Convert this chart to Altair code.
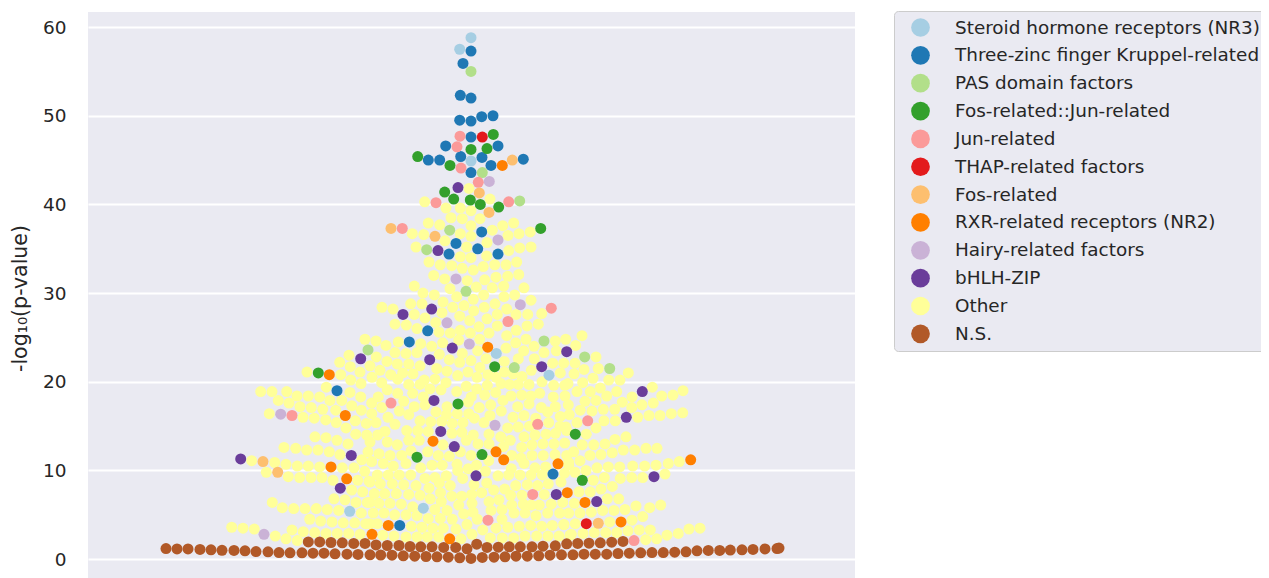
import altair as alt
import pandas as pd

families = ["Steroid hormone receptors (NR3)", "Three-zinc finger Kruppel-related", "PAS domain factors",
            "Fos-related::Jun-related", "Jun-related", "THAP-related factors", "Fos-related",
            "RXR-related receptors (NR2)", "Hairy-related factors", "bHLH-ZIP", "Other", "N.S."]
palette = ["#a6cee3", "#1f78b4", "#b2df8a", "#33a02c", "#fb9a99", "#e31a1c", "#fdbf6f", "#ff7f00",
           "#cab2d6", "#6a3d9a", "#ffff99", "#b15928"]
y_ticks = [0, 10, 20, 30, 40, 50, 60]

# (swarm offset, -log10 p-value)
steroid = [(0,58.8),(-11.3,57.5),(0,44.9),(25.3,23.2),(78,20.75),(-121.3,5.4),(-47.7,5.75)]
zinc = [(0,57.3),(-8,55.9),(-10.7,52.3),(0,52.0),(-11.3,49.5),(0,49.4),(10.7,49.9),(22,50.0),(0,47.6),
        (-25.3,46.6),(27,46.6),(-10.3,45.4),(11,45.3),(-42.7,45.0),(-31.3,45.0),(52.3,45.1),(20,44.4),(0,43.6),
        (10.7,36.9),(-15,35.6),(6.7,35.0),(-22,34.4),(27,34.4),(-134,19.0),(-43.3,25.75),(-61.7,24.5),(-71.3,3.8),(82,9.6)]
pas = [(0,55.0),(11.3,43.6),(48.7,40.4),(-21.3,37.1),(-44.3,34.9),(-5,30.2),(-103,23.6),(73,24.6),(113.7,22.8),(138.7,21.5),(43.3,21.6)]
fosjun = [(22.3,47.9),(0,46.2),(16,46.3),(-53.3,45.4),(-21,44.4),(-26.3,41.4),(-17.3,40.6),(-0.7,40.5),(9.3,40.0),(27.7,39.7),(69.7,37.3),
          (-152.7,21.0),(-13,17.5),(-54,11.5),(23.7,21.7),(104.3,14.1),(11,11.8),(111.3,8.9)]
jun = [(-11,47.7),(-14,46.5),(-10,44.1),(7.3,42.5),(37.7,40.3),(-35,40.2),(-68.7,37.3),(-179,16.2),(-80,17.6),
       (80.3,28.3),(37,26.8),(66.7,15.2),(116.7,15.6),(61.7,7.3),(17,4.4),(163,2.1)]
thap = [(11.3,47.6),(115.3,4.0)]
fos = [(41.3,45.0),(8.3,41.3),(18,39.1),(-80,37.3),(-36,36.4),(-208,11.0),(-193.3,9.8),(127.3,4.05)]
rxr = [(31.3,44.4),(-141.7,20.8),(-125.7,16.2),(-38,13.3),(-140,10.4),(-124.3,9.06),(-82.7,3.8),(-99,2.8),(-21.3,2.3),
       (16.7,23.9),(25,12.1),(32.7,11.2),(87,10.75),(219.7,11.2),(96.3,7.5),(114,6.4),(150,4.2)]
hairy = [(18.3,42.6),(27,36.0),(-15,31.6),(49.3,28.7),(-24,26.65),(-1.7,24.25),(-190.3,16.35),(-207,2.8),(24,15.1)]
bhlh = [(-13,41.9),(-33,34.8),(-39.3,28.2),(-68,27.6),(-18.7,23.8),(-110.3,22.6),(-41.3,22.5),(-37,17.9),(-30.3,14.4),(-16.7,12.7),
        (-119.7,11.7),(-230.3,11.3),(5,9.4),(-130.7,8.0),(95.7,23.4),(70.7,21.7),(171.3,18.9),(155.3,16.0),(183,9.3),(85.3,7.3),(125.7,6.5)]

other_top = [(-2,41.8),(-46.3,40.3),(19,40.6),(-25,39.6),(-10.7,39.6),(0,39.3),(-20,38.5),(-8.7,38.4),(9,38.4),(-42.7,37.9),(-31.3,37.7),
             (0,37.6),(31.7,37.6),(42.7,37.9),(21.3,37.1),(-58.7,36.7),(-47.3,36.6),(-10.7,36.7),(37,36.5),(48,36.7),(59.3,36.9),(0,36.4),
             (-26,35.9),(16,35.7),(-55,35.2),(-4.3,35.2),(60,35.2),(48.7,35.1),(37.7,34.8),(-10.7,34.1),(0,34.0),(15.7,34.2),(-42,33.5),
             (-30.7,33.2),(-19.3,33.1),(-8.7,32.8),(2.3,32.6),(12.3,33.0),(23.7,33.2),(35,33.2),(45.7,33.5),(-37.3,32.0),(-26.3,31.6),
             (-3.7,31.4),(13.7,31.5),(25,31.8),(36.7,31.9),(47.7,32.1),(-56.7,30.8),(-21,30.5),(5.3,30.7),(21.3,30.6),(32.7,30.8),(53,30.6),
             (-48,30.0),(-36.7,29.8),(-14.3,29.6),(12.7,29.8),(33,29.6),(43.7,29.8),(2.3,29.3),(60,29.2)]
other_upper = [(-89,28.4),(-78,28.2),(-60.3,28.8),(-49,28.8),(-28,29.0),(-56.7,27.6),(-29,27.8),(-46,27.2),(-18.3,28.4),(-7,28.6),(2.7,28.0),
               (13.3,28.4),(24,28.8),(35.7,28.2),(-11.3,27.4),(-1.3,26.9),(16,27.1),(26.3,27.6),(45,27.6),(56.7,27.6),(70.7,27.7),(-76,26.5),
               (-64.7,26.4),(-35.3,26.7),(-54,26.0),(8,26.2),(26.3,26.3),(45.3,25.8),(56,26.3),(67.3,26.5),(-32,25.6),(-20.7,25.5),(-10.7,25.8),
               (-0.7,25.5),(18,25.5),(35.7,25.2),(-95,24.6),(-72.7,24.5),(-85,24.1),(-50.3,24.3),(-39.3,24.0),(-28.3,24.4),(-12.3,24.7),(8.7,24.8),
               (44.7,24.4),(55,24.8),(63,24.0),(84.3,24.6),(94.7,24.8),(-76,23.3),(-65,23.2),(-54,23.3),(-31.7,23.1),(-8.7,23.2),(6.7,23.5),(35,23.8),
               (52.7,23.5),(73,23.3),(85.3,23.5),(-94.7,22.8),(-84,22.3),(-73.7,22.0),(-62.3,22.0),(-51,21.8),(-21.7,22.5),(-11.3,22.2),(0,22.4),
               (15,22.6),(33.3,22.3),(47.3,22.6),(63.3,22.6),(81.7,22.1),(92.7,22.1),(-101,21.8),(-91,21.3),(-80.3,20.8),(-68.3,21.0),(-58,20.9),
               (-34.3,21.5),(-24,21.2),(-13.3,20.7),(-3,21.1),(9,21.6),(17,20.8),(33.3,21.1),(51,20.6),(60.3,21.3),(89.3,21.0),(-99,20.5),(-73.3,20.3),
               (-46.7,20.2),(-36,20.3),(6,20.5)]
other_middle = [(-89.3,19.9),(-62.3,19.7),(-51,19.7),(-25,19.9),(-4.7,19.5),(5.7,19.2),(16.3,19.6),(30,19.8),(47.3,19.7),(58,19.7),(71,20.0),
                (82.7,19.6),(93.7,19.6),(-83.7,19.1),(-73.3,18.7),(-58.3,18.7),(-92.7,18.3),(-47.7,18.3),(-30,19.1),(-41,19.2),(0.3,18.3),(13.7,18.5),
                (24.7,18.8),(40,18.4),(50.7,18.5),(68.7,18.7),(82.3,18.3),(94,18.4),(-14.3,18.9),(-99.3,17.6),(-89.3,17.1),(-67.3,17.8),(-56.7,17.2),
                (-46,17.4),(-24,17.2),(-2.7,17.7),(8.3,17.1),(19.7,17.4),(32,17.9),(46.7,17.2),(58,17.5),(70.3,17.1),(84.3,17.2),(97.3,17.4),(-71.7,16.7),
                (-83,16.0),(-99.3,16.4),(-35,16.6),(-62.3,16.3),(-13.7,16.4),(-2.3,16.4),(30.3,16.7),(42,16.0),(53,16.2),(76.7,16.6),(64.7,15.9),(89.3,16.1),
                (-95,15.4),(-76,15.2),(-51,15.6),(-40.3,15.5),(-29.3,15.5),(-18.7,15.3),(-8,15.4),(3.3,15.9),(13,15.4),(36.7,14.8),(47.3,14.9),(77.7,15.4),
                (89,15.0),(-86,14.4),(-64.3,14.5),(-53.3,14.5),(-42.7,14.4),(2.3,14.0),(18,14.1),(29.7,13.8),(53,13.8),(64,14.0),(75,14.1),(95.7,14.5),
                (-101,13.2),(-93.3,14.0),(-73.7,12.9),(-83.7,13.2),(-62.3,13.4),(-51.7,13.4),(-28,12.9),(-4.7,13.4),(7,13.0),(18,13.0),(39.3,13.4),(50.7,12.6),
                (61,12.9),(72,13.0),(83,13.0),(93.7,13.1),(-92,11.9),(-81,11.7),(-69.3,11.7),(-43.3,12.1),(-32.7,11.7),(-21.7,11.6),(-10.7,12.1),(0,11.7),
                (40.7,11.7),(50,11.4),(61,11.7),(72.3,11.7),(95.7,11.7),(-99.3,11.0),(-87.7,10.8),(-65,10.8),(-77.7,10.5),(-50.3,10.3),(-39,10.6),(-28.7,10.6),
                (-14,10.7),(-2.7,10.2),(17.7,11.1),(40.3,10.2),(53,10.8),(64,10.3),(74.7,10.4),(97.7,10.6)]
other_lower = [(-93.7,9.5),(-82.7,9.5),(-71.7,9.5),(-60.3,9.5),(-46,9.1),(-36,9.2),(-24.7,9.4),(-13.3,10.0),(-8.3,9.1),(15.7,8.6),(27,9.4),(37.7,9.5),
               (49,9.5),(60,9.5),(71.3,9.5),(-101,8.7),(-90.7,8.5),(-78.7,8.5),(-67.3,8.4),(-42,8.0),(-31.7,8.6),(-20.7,8.3),(3,8.4),(22.7,7.8),(33.7,7.9),
               (44.7,8.3),(56.3,8.4),(66.7,8.3),(77.3,8.5),(90,8.7),(-96.7,7.4),(-86.3,7.4),(-74.7,7.4),(-62.3,7.3),(-51,7.2),(-19.3,7.1),(-9.3,7.1),(0.7,7.3),
               (10.7,7.5),(39.7,7.2),(51,7.2),(73.3,7.3),(-101,6.4),(-92,6.3),(-81,6.3),(-69.7,6.2),(-58.3,5.9),(-40.7,6.8),(-29.7,6.5),(-12.3,6.1),(1,6.3),
               (18,6.5),(28,6.7),(40.7,6.1),(52.3,6.2),(68.3,6.1),(80.3,6.2),(91.7,6.4),(-97.7,5.2),(-87,5.2),(-76.3,5.0),(-65,5.0),(-36,5.6),(-24,5.5),(-7.3,5.1),
               (-54,4.9),(-42.7,4.6),(-30.7,4.6),(6.3,4.5),(31,4.5),(43,5.2),(54,5.2),(65,4.9),(76.7,5.2),(88.7,5.2),(-93.7,4.0),(-101,4.0),(-59.7,3.7),(-49,3.6),
               (-38.3,3.5),(-18.7,4.5),(-4,3.9),(-27.7,3.5),(11.7,3.3),(25,3.5),(36.7,3.6),(48.3,3.7),(59.7,3.8),(70.7,3.7),(81.3,3.8),(92.7,3.9),(-88.3,2.7),(-77,2.6),
               (-65,2.5),(-54,2.5),(-43.7,2.5),(-32.3,2.5),(-10,2.3),(1,2.8),(19.3,2.4),(31.3,2.4),(42.7,2.4),(54,2.6),(65.7,2.6),(77,2.6),(88,2.6),(99,2.7)]
other_left = [(-106,24.8),(-122,23.0),(-131.3,22.2),(-120.7,21.7),(-111,21.1),(-164,21.1),(-130.3,20.8),(-120.3,20.2),(-110,19.8),(-144.7,19.4),(-210.3,18.9),
              (-199,18.9),(-184.3,18.9),(-174,18.4),(-162.7,18.4),(-151.3,18.3),(-121,18.8),(-110.3,18.3),(-192.7,17.9),(-141,17.9),(-129.3,17.9),(-182,17.6),
              (-171,17.2),(-159.7,17.1),(-148.3,16.9),(-135.3,16.8),(-119.3,17.3),(-109.7,16.8),(-201.7,16.4),(-168,16.0),(-156.7,15.9),(-145.3,15.7),(-134.7,15.4),
              (-115.7,15.6),(-104.7,15.3),(-125,14.8),(-156,13.8),(-145,13.7),(-134,13.4),(-115.3,14.1),(-104.3,14.0),(-123,13.0),(-187,12.6),(-175.3,12.5),(-164.3,12.3),
              (-153,12.3),(-141.7,12.1),(-131,11.8),(-109.3,11.2),(-103,12.1),(-219.3,11.1),(-196.3,10.9),(-185,10.7),(-173.7,10.5),(-162.7,10.5),(-151.3,10.4),(-128.7,10.3),
              (-117,10.3),(-106.3,9.9),(-204.7,9.8),(-182.7,9.3),(-171.3,9.2),(-160,9.2),(-149,9.2),(-138,8.9),(-113.3,8.9),(-102,8.8),(-119.3,7.8),(-108.3,7.6),(-137,6.8),
              (-126,6.7),(-115,6.4),(-103.7,6.4),(-198.7,6.4),(-188.7,5.8),(-177.3,5.7),(-166,5.7),(-154.7,5.7),(-143.7,5.6),(-132.3,5.5),(-109.7,5.2),(-161.3,4.5),(-150.3,4.3),
              (-139,4.2),(-127.7,4.1),(-116.3,4.1),(-105.3,4.0),(-239.3,3.6),(-228,3.5),(-216.7,3.4),(-195.7,2.6),(-179,3.3),(-167.7,3.1),(-156.3,3.0),(-145,2.9),(-133.7,2.9),
              (-122.3,2.9),(-111,2.8),(-185,2.3),(-173.7,2.1)]
other_right = [(111,25.2),(104.7,24.1),(125,22.8),(104,22.1),(113,21.4),(127.3,21.5),(157.3,21.0),(103,20.9),(122,20.4),(137.7,20.2),(149,20.2),(111.7,19.9),(97,19.8),
               (106,18.9),(119.3,18.9),(129.3,19.3),(135.7,18.4),(145.7,18.9),(161,18.3),(181.3,19.4),(190.7,18.4),(202,18.5),(212,19.0),(114,17.8),(125,17.9),(151.3,17.7),
               (171,17.4),(182.3,17.6),(109.3,16.8),(121,16.7),(132.3,16.9),(143.7,16.9),(160.7,17.1),(98.3,16.3),(166.7,16.0),(178,16.2),(189,16.2),(200.3,16.4),(211.7,16.5),
               (106,15.4),(133,15.6),(144.3,15.6),(95,14.9),(125,14.8),(115.3,14.1),(144,13.5),(155,13.8),(111.3,12.9),(122.7,12.9),(134,13.0),(102.7,12.1),(119,11.7),(130,11.8),
               (141.3,12.0),(152.3,12.3),(163.7,12.3),(175,12.5),(186,12.5),(109,11.1),(126,10.3),(137.3,10.4),(148.7,10.4),(161.7,10.5),(173.7,10.5),(185,10.6),(197.3,10.8),
               (208.3,11.0),(97.7,10.9),(104,9.8),(115,10.0),(133.3,9.2),(122.3,8.9),(149.3,9.1),(160.7,9.2),(171.7,9.2),(194,9.6),(130,7.9),(141.3,8.2),(108,7.6),(119.3,7.6),
               (136.3,6.8),(147.7,6.8),(103.3,6.3),(109,5.2),(120.3,5.3),(131.7,5.5),(143,5.5),(154,5.6),(165,6.0),(178.7,5.8),(189.7,6.1),(97.7,5.2),(104.3,4.0),(138.7,4.2),
               (161,4.4),(171.7,4.8),(93,3.9),(100.3,2.8),(112,2.9),(123.3,3.0),(134.7,3.0),(145.7,3.0),(157,3.2),(168.3,3.3),(179.3,3.3),(196,2.7),(207.3,2.9),(218,3.4),(229,3.5),
               (174.7,2.2),(185.7,2.3)]
other_center = [(20,5.5),(31,5.6),(-15,3.4),(-30.5,7.5),(-55,8.3),(84,11.8),(32.5,12.7),(-19,14.2),(-9,14.3),(84.5,14.2),(-24.5,16.3),(19,16.2),(38.5,19.7),
                (59.8,18.4),(42,20.9),(25,20.5),(93.5,9.7),(14.5,9.9),(5.5,10.6),(60.2,6.1),(2,5.3),(-60,12.2),(58.5,15)]

ns_upper = [(-162.7,1.95),(-151.3,1.95),(-140,1.88),(-128.7,1.84),(-117.3,1.77),(-106,1.77),(-95,1.6),(-83.7,1.54),(-72,1.54),(-61,1.43),(-50.3,1.39),(-39,1.39),
            (-27.3,1.32),(-15.3,1.32),(-4,1.17),(5.7,1.69),(16,1.32),(27.3,1.35),(38.3,1.39),(49.3,1.39),(61,1.39),(72,1.47),(84.3,1.5),(95.7,1.73),(106.7,1.77),
            (118,1.8),(129.3,1.84),(140.7,1.92),(152,2.0)]
ns_lower = [(-305,1.2),(-294,1.15),(-283,1.15),(-271,1.1),(-260,1.05),(-249,1.0),(-237,0.98),(-226,0.94),(-215,0.86),(-203,0.83),(-192,0.75),(-181,0.71),(-169,0.71),
            (-158,0.68),(-147,0.68),(-136,0.6),(-124,0.56),(-113,0.53),(-101,0.49),(-90.3,0.47),(-79,0.45),(-67.7,0.38),(-56.3,0.34),(-45,0.3),(-34,0.26),(-22.7,0.23),
            (-11.3,0.15),(0,0.08),(11.3,0.19),(23,0.23),(34,0.26),(45,0.34),(56.3,0.34),(67.7,0.38),(79,0.45),(90.5,0.49),(102,0.49),(113,0.56),(124.3,0.56),(135.7,0.56),
            (147,0.64),(158.3,0.68),(169.7,0.71),(181,0.75),(192.3,0.75),(203.7,0.79),(215,0.83),(226,0.94),(237.3,0.98),(248.7,0.98),(259.3,1.02),(271,1.05),(282,1.1),
            (294,1.15),(306,1.2),(308,1.25)]

other = other_top + other_upper + other_middle + other_lower + other_left + other_right + other_center
ns = ns_upper + ns_lower
groups = [steroid, zinc, pas, fosjun, jun, thap, fos, rxr, hairy, bhlh, other, ns]
draw_order = [10, 11, 0, 1, 2, 3, 4, 5, 6, 7, 8, 9]

rows = []
for i in draw_order:
    rows.extend({"offset": a, "value": b, "family": families[i]} for a, b in groups[i])
df = pd.DataFrame(rows)

chart = alt.Chart(df).mark_circle(size=121, opacity=1, strokeWidth=0).encode(
    x=alt.X("offset:Q", axis=None, scale=alt.Scale(domain=[-383, 384], nice=False, zero=False)),
    y=alt.Y("value:Q", title="-log₁₀(p-value)",
            scale=alt.Scale(domain=[-2.8, 61.7], nice=False, zero=False),
            axis=alt.Axis(values=y_ticks, grid=True, gridColor="white", gridWidth=2, domain=False, ticks=False,
                          labelFontSize=18.5, labelColor="#262626", labelPadding=22, labelFont="DejaVu Sans",
                          titleFontSize=20.5, titleColor="#262626", titleFont="DejaVu Sans", titleFontWeight="normal",
                          titlePadding=12)),
    color=alt.Color("family:N", scale=alt.Scale(domain=families, range=palette),
                    legend=alt.Legend(title=None, orient="none", legendX=806, legendY=-1,
                                      fillColor="#eaeaf2", strokeColor="#cccccc", cornerRadius=4, padding=7,
                                      symbolType="circle", symbolSize=350, symbolStrokeWidth=0, symbolOpacity=1,
                                      symbolOffset=10, labelFontSize=18.4, labelColor="#262626", labelFont="DejaVu Sans",
                                      labelLimit=500, labelOffset=25, rowPadding=8.85, values=families)),
).properties(
    width=767, height=572,
    background="white",
    padding={"left": 80, "top": 4, "right": 406, "bottom": 0},
    autosize=alt.AutoSizeParams(type="none"),
).configure_view(fill="#eaeaf2", stroke=None)

chart.save("out.html", embed_options={"renderer": "svg", "actions": False})
